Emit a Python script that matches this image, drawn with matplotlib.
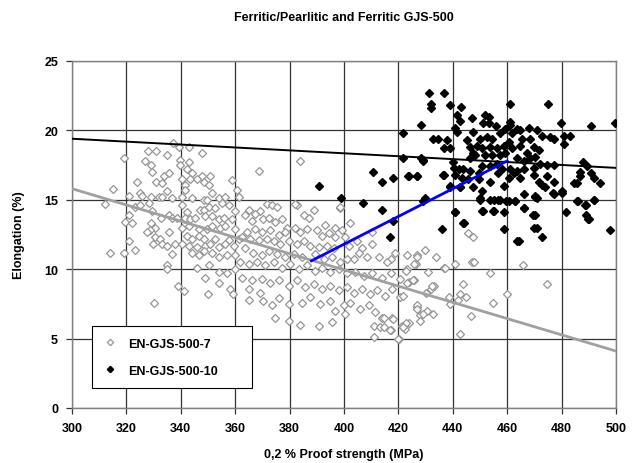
import matplotlib
matplotlib.use("Agg")
import matplotlib.pyplot as plt

plt.rcParams['font.family'] = ['Liberation Sans', 'DejaVu Sans']
plt.rcParams['font.weight'] = 'bold'

# EN-GJS-500-7 (grey hollow diamonds): (proof strength MPa, elongation %)
grey_pts = [
    (337, 19.1), (339.2, 18.8), (342.9, 18.8), (327.9, 18.5), (330.9, 18.5), (347.8, 18.4), (319, 18.0),
    (334.9, 18.2), (339.8, 17.9), (327, 17.8), (329, 17.5), (342.9, 17.7), (339.8, 17.5), (329.4, 17.0),
    (333.7, 16.7), (335.8, 16.9), (342.3, 17.2), (344.1, 16.9), (347.8, 16.7), (350.9, 16.7), (323.9, 16.3),
    (331, 16.3), (333.1, 16.2), (340.4, 16.5), (341.7, 16.1), (343.5, 16.5), (346, 16.5), (348.4, 16.3),
    (350.2, 16.1), (358.8, 16.4), (315, 15.8), (334.9, 15.6), (341.7, 15.7), (351.5, 15.5), (360.7, 15.7),
    (325.1, 15.5), (325.7, 15.3), (320.8, 15.3), (329, 15.2), (332.1, 15.2), (333.1, 15.2), (336.8, 15.1),
    (340.4, 15.2), (344.1, 15.1), (348.4, 15.0), (349.6, 15.0), (353.9, 15.1), (356.4, 15.2), (361.3, 15.2),
    (312, 14.7), (323.3, 14.5), (325.1, 14.6), (328.2, 14.8), (329.4, 14.2), (340.4, 14.6), (342.3, 14.1),
    (347.2, 14.3), (348.4, 14.3), (350.2, 14.5), (352.7, 14.4), (355.1, 14.8), (357.6, 14.6), (360, 14.2),
    (320.8, 13.9), (332.8, 13.7), (335.5, 13.9), (336.8, 13.7), (338.6, 13.7), (341.7, 13.7), (343.5, 13.6),
    (345.3, 13.7), (349, 13.8), (351.5, 13.8), (353.9, 13.6), (355.8, 13.7), (358.8, 13.6), (319.6, 13.4),
    (322.1, 13.3), (329, 13.3), (330.6, 13.0), (328.8, 12.8), (327.6, 12.7), (335.5, 12.7), (340.4, 13.0),
    (342.9, 13.1), (346.6, 12.9), (349.6, 12.9), (351.5, 13.1), (354.5, 13.0), (356.4, 13.1), (360, 12.9),
    (330.6, 12.3), (332.5, 12.2), (342.3, 12.4), (344.1, 12.2), (346.6, 12.4), (348.4, 12.2), (352.7, 12.2),
    (357.6, 12.1), (361.3, 12.2), (321.1, 12.0), (329.8, 11.8), (333.1, 11.8), (334.9, 11.7), (338, 11.8),
    (340.4, 11.8), (342.9, 11.7), (346, 11.6), (349, 11.7), (350.9, 11.8), (353.9, 11.6), (356.4, 11.8),
    (359.4, 11.7), (323, 11.4), (314.1, 11.2), (319, 11.2), (336.8, 11.1), (344.1, 11.2), (346.6, 11.0),
    (348.4, 11.3), (351.5, 11.2), (353.9, 10.9), (357, 11.0), (360, 11.0), (334.9, 10.3), (334.9, 10.0),
    (346, 10.1), (350.2, 10.3), (353.9, 9.8), (357, 9.7), (360, 10.0), (349, 9.4), (339, 8.8), (341.1, 8.4),
    (353.9, 9.0), (350, 8.2), (358.2, 8.6), (359.1, 8.2), (330, 7.6),
    (383.8, 17.8), (368.9, 17.1), (398.5, 14.4),
    (382.7, 14.6), (385.2, 13.9), (387, 13.7), (389.1, 14.3), (392.9, 13.2), (399.3, 12.8), (402.3, 13.3),
    (400.5, 12.3), (396.8, 12.3), (394.4, 12.6), (398.7, 14.5), (371.7, 14.7), (373.5, 14.6), (375.3, 14.5),
    (369.2, 14.2), (367.4, 14.0), (364.9, 14.3), (363.7, 13.9), (366.1, 13.5), (370.4, 13.6), (372.3, 13.7),
    (374.7, 13.4), (377.2, 13.6), (379, 13.0), (382.1, 13.0), (383.9, 12.7), (386.4, 12.9), (390.1, 12.8),
    (391.9, 12.4), (378.4, 12.7), (376, 12.5), (372.9, 12.8), (369.8, 12.7), (367.4, 12.9), (364.3, 12.7),
    (362.5, 12.3), (365.5, 12.2), (368.6, 12.1), (371.7, 12.2), (374.1, 12.0), (376.6, 11.8), (379.6, 12.0),
    (382.7, 11.8), (385.2, 12.0), (387.6, 11.7), (390.7, 11.6), (393.7, 11.7), (396.2, 11.5), (401.7, 11.7),
    (404.8, 12.0), (406.6, 11.5), (410.3, 11.8), (412.8, 10.9), (417.1, 10.7), (418.9, 11.2), (426.3, 10.4),
    (426.9, 11.0), (423.2, 10.0), (415.8, 10.5), (408.5, 10.9), (405.4, 11.2), (403.6, 10.7), (363.7, 11.5),
    (366.7, 11.2), (369.8, 11.0), (372.3, 11.3), (375.3, 11.1), (378.4, 10.9), (381.5, 11.1), (384.5, 10.9),
    (389.4, 11.1), (392.5, 10.7), (395.6, 10.9), (398.7, 10.5), (401.1, 10.7), (361.8, 10.5), (364.9, 10.4),
    (368, 10.5), (371, 10.3), (374.1, 10.5), (377.2, 10.1), (380.2, 10.4), (383.3, 10.0), (386.4, 10.3),
    (389.4, 9.9), (391.9, 10.1), (395, 9.8), (398, 10.0), (401.1, 9.7), (404.2, 9.8), (407.2, 9.5),
    (410.3, 9.7), (414, 9.4), (417.1, 9.7), (420.7, 9.3), (423.8, 9.1), (425.6, 9.2), (362.5, 9.4),
    (366.1, 9.2), (369.8, 9.3), (372.9, 9.0), (376, 9.2), (379.6, 8.8), (382.7, 9.2), (385.8, 8.7),
    (388.8, 8.9), (391.9, 8.6), (395, 8.8), (398, 8.5), (401.1, 8.7), (403.6, 8.3), (406.6, 8.6),
    (409.7, 8.2), (412.1, 8.5), (415.2, 8.1), (417.7, 8.6), (364.9, 8.6), (364.9, 7.8), (369.2, 8.3),
    (370.4, 7.7), (373.5, 7.4), (376, 7.9), (379.6, 7.5), (384.5, 7.6), (387.6, 8.0), (391.3, 7.5),
    (395, 7.7), (396.8, 7.0), (399.9, 7.4), (402.3, 7.6), (406, 7.1), (409.1, 7.4), (411.5, 6.9),
    (414, 6.5), (417.7, 6.5), (421.3, 5.9), (423.8, 6.1), (426.9, 7.3), (428.1, 6.7), (374.7, 6.5),
    (379.6, 6.3), (383.9, 6.0), (390.7, 5.9), (395.6, 6.2), (400.5, 6.8), (410.9, 5.9), (413.4, 5.8),
    (417.1, 5.6), (410.9, 5.1), (420.1, 5.0), (382.1, 14.7), (396.8, 13.0), (410.3, 12.7),
    (423, 11.0), (426.7, 10.9), (429.8, 11.4), (433.8, 10.9), (440.8, 10.4), (446.9, 10.5), (447.9, 10.5),
    (465.7, 10.3), (453.7, 9.7), (443.9, 8.9), (474.7, 8.9), (459.8, 8.2), (454.9, 7.6), (444.9, 8.0),
    (442.6, 8.2), (441.8, 7.8), (438.7, 8.0), (446.6, 6.6), (442.8, 5.3), (433.1, 8.8), (431.9, 8.6),
    (430.6, 7.0), (432.8, 6.8), (429.2, 6.8), (427.9, 6.3), (426.7, 7.4), (426.7, 7.1), (422.8, 6.1),
    (422.4, 5.7), (421.8, 5.8), (420, 5.0), (417, 5.6), (414.7, 5.8), (417.9, 6.4), (414.7, 6.5),
    (425.7, 10.4), (431, 9.8), (436.8, 10.1), (423, 9.0), (425.4, 9.2), (420.6, 8.0), (421.8, 8.1),
    (430, 8.3), (439, 7.5), (445.7, 12.6), (447.5, 12.3), (437.1, 10.1), (422.8, 9.9), (432.3, 8.8),
]

# EN-GJS-500-10 (black filled diamonds)
black_pts = [
    (431.1, 22.7), (436.8, 22.7), (431.9, 21.9), (431.9, 21.6), (439, 21.8), (443, 21.7), (460.9, 21.9),
    (474.9, 21.9), (441.7, 21.1), (442.5, 20.7), (447, 20.9), (451.9, 21.1), (453.2, 21.0), (451.1, 20.5),
    (453.2, 20.5), (456, 20.3), (460.9, 20.6), (460.9, 20.4), (463.6, 20.1), (467.9, 20.2), (470.9, 20.0),
    (479.8, 20.5), (490.8, 20.3), (499.8, 20.5), (428.2, 20.4), (440.9, 20.2), (441.5, 19.9), (447.6, 19.9),
    (450.1, 19.4), (452.5, 19.5), (454.4, 19.4), (457.4, 19.8), (459.3, 20.1), (461.7, 19.8), (464.8, 20.0),
    (465.4, 19.4), (468.5, 19.4), (472.8, 19.6), (475.9, 19.5), (477.1, 19.4), (481, 19.6), (483, 19.6),
    (481, 19.0), (432.9, 19.4), (434.7, 19.4), (437.8, 19.3), (436.6, 18.7), (439, 18.7), (445.2, 19.3),
    (446.4, 18.8), (448.9, 18.9), (450.7, 18.7), (453.8, 18.8), (456.2, 18.7), (458.7, 18.9), (460.5, 19.2),
    (459.3, 18.4), (457.4, 18.2), (454.4, 18.2), (451.9, 18.2), (448.3, 18.2), (446.4, 18.0), (447.6, 18.4),
    (461.7, 18.7), (464.8, 18.9), (467.3, 18.4), (469.7, 18.8), (471.6, 18.6), (470.3, 18.1), (468.5, 18.0),
    (466, 17.8), (463.6, 18.0), (428.2, 18.0), (439.9, 17.7), (440.3, 17.3), (442.1, 17.2), (443.9, 17.2),
    (446.4, 17.1), (450.7, 17.4), (453.8, 17.4), (456.2, 17.6), (458.1, 17.2), (460.9, 17.2), (463.6, 17.1),
    (466, 17.2), (469.7, 17.3), (472.2, 17.6), (474.6, 17.5), (477.1, 17.5), (487.9, 17.7), (489.3, 17.4),
    (486.6, 17.0), (486.6, 16.7), (485.7, 16.2), (484.7, 16.2), (490.8, 16.9), (491.8, 16.6), (494, 16.2),
    (436.6, 16.8), (440.9, 16.8), (443.3, 16.6), (449.5, 16.9), (449.5, 16.5), (456.8, 16.9), (460.5, 16.6),
    (462.4, 16.9), (464.8, 16.6), (469.7, 16.8), (471.6, 16.3), (472.8, 16.1), (474, 15.9), (477.1, 16.3),
    (474.6, 16.7), (439, 16.0), (442.7, 15.9), (447.6, 15.9), (450.7, 15.6), (453.8, 16.3), (458.7, 16.0),
    (466, 15.4), (470.3, 15.3), (477.1, 15.4), (480.1, 15.6), (450.1, 15.1), (455, 15.0), (457.4, 15.0),
    (460.5, 14.9), (462.9, 14.9), (470.9, 15.1), (485.9, 14.9), (489.1, 14.6), (491.8, 15.0), (440.9, 14.1),
    (451.1, 14.2), (455, 14.2), (458.9, 14.1), (466, 14.4), (470.3, 13.9), (481.7, 14.1), (489.1, 13.9),
    (490, 13.6), (444, 13.3), (436, 12.9), (458.9, 12.9), (469.7, 13.0), (470.9, 13.0), (472.8, 12.3),
    (464.2, 12.0), (497.9, 12.8),
    (390.9, 16.0), (398.8, 15.1), (410.8, 17.0), (413.8, 16.3), (417.9, 16.6), (421.8, 18.0), (423.9, 16.7),
    (426.9, 16.7), (428.9, 17.9), (406.9, 14.8), (413.8, 14.3), (417.9, 13.5), (416.9, 12.3), (429.2, 14.9),
    (429.8, 15.1), (440.8, 14.1), (443.9, 13.3), (429.2, 17.8), (421.8, 19.8),
    (423.6, 16.7), (426.7, 16.7), (436.3, 16.8), (439, 15.9), (442.6, 15.9), (445.7, 16.5), (450, 15.0),
    (453.7, 15.0), (456.7, 15.0), (459.6, 14.9), (462.9, 14.9), (466, 14.4), (470.2, 15.2), (476.9, 15.5),
    (480, 15.5), (485.5, 14.9), (491.9, 15.0), (450.6, 14.2), (454.9, 14.2), (463.7, 12.0), (469.6, 13.9),
    (488.6, 14.6), (489.8, 13.6),
]

# fitted / trend lines (x endpoints, y endpoints)
black_line_x = [300, 500]
black_line_y = [19.4, 17.3]
grey_line_x = [300, 500]
grey_line_y = [15.8, 4.1]
blue_line_x = [388, 460]
blue_line_y = [10.6, 17.8]

labels = ['EN-GJS-500-7', 'EN-GJS-500-10']
xticks = list(range(300, 501, 20))
yticks = list(range(0, 26, 5))

fig = plt.figure(figsize=(6.35, 4.64), dpi=100)
ax = fig.add_axes([72 / 635, 1 - 409 / 464, 544 / 635, 347 / 464])

gx = [p[0] for p in grey_pts]
gy = [p[1] for p in grey_pts]
bx = [p[0] for p in black_pts]
by = [p[1] for p in black_pts]

ax.plot(gx, gy, 'D', ms=4, mfc='white', mec='#959595', mew=0.9, ls='none',
        label=labels[0], zorder=3)
ax.plot(bx, by, 'D', ms=4, color='black', ls='none', label=labels[1], zorder=4)

ax.plot(black_line_x, black_line_y, color='black', lw=1.4, zorder=5)
ax.plot(grey_line_x, grey_line_y, color='#a0a0a0', lw=2.0, zorder=5)
ax.plot(blue_line_x, blue_line_y, color='#0000ff', lw=2.0, zorder=6)

ax.set_xlim(300, 500)
ax.set_ylim(0, 25)
ax.set_xticks(xticks)
ax.set_yticks(yticks)
ax.grid(True, color='#333333', lw=0.9, zorder=0)
ax.set_axisbelow(True)
for s in ax.spines.values():
    s.set_color('#808080')
    s.set_linewidth(1.0)
ax.tick_params(axis='both', labelsize=9, length=4, width=0.9, color='#333333', pad=6)
for t in ax.get_xticklabels() + ax.get_yticklabels():
    t.set_fontweight('bold')

ax.set_xlabel('0,2 % Proof strength (MPa)', fontsize=9, fontweight='bold', labelpad=10)
ax.set_ylabel('Elongation (%)', fontsize=9, fontweight='bold', labelpad=14)
fig.text(344 / 635, 1 - 18 / 464, 'Ferritic/Pearlitic and Ferritic GJS-500',
         ha='center', va='center', fontsize=9, fontweight='bold')

leg = ax.legend(loc='lower left', bbox_to_anchor=(0.036, 0.058, 0.294, 0.187), mode='expand',
                borderaxespad=0, fancybox=False, framealpha=1, edgecolor='black',
                prop={'size': 9, 'weight': 'bold'}, markerscale=0.8, handlelength=1.2,
                handletextpad=0.8, labelspacing=1.2, borderpad=0.9)
leg.get_frame().set_linewidth(0.8)

fig.savefig('out.png', dpi=100)
